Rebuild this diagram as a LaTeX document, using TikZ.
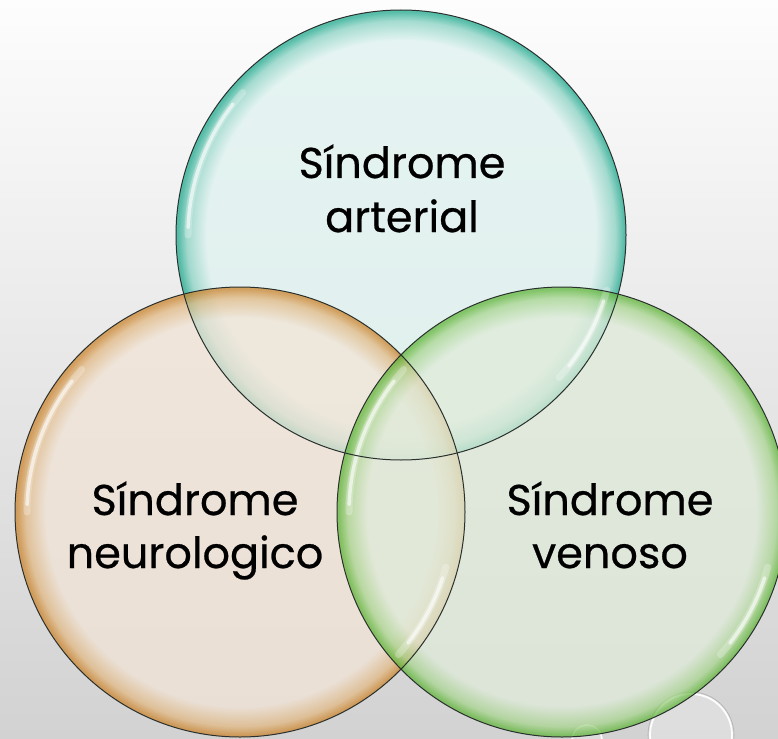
\documentclass[tikz,border=0pt]{standalone}
\usepackage{fontspec}
\setmainfont{Poppins}[FakeBold=0.6]
\usetikzlibrary{calc}

\definecolor{bgtop}{HTML}{FDFDFD}
\definecolor{bgbot}{HTML}{D2D2D2}
\definecolor{tealfill}{HTML}{E0F3F0}
\definecolor{tealmid}{HTML}{8FD4C6}
\definecolor{tealrim}{HTML}{2FAF95}
\definecolor{orfill}{HTML}{F2E4D6}
\definecolor{ormid}{HTML}{E2B984}
\definecolor{orrim}{HTML}{CC8630}
\definecolor{grfill}{HTML}{DFEBD9}
\definecolor{grmid}{HTML}{A8D58F}
\definecolor{grrim}{HTML}{62B63C}
\definecolor{outl}{HTML}{2A302E}

\pgfdeclareradialshading{tealball}{\pgfpoint{0bp}{0bp}}{color(0bp)=(tealfill); color(21.6bp)=(tealfill); color(23.8bp)=(tealmid); color(24.8bp)=(tealrim); color(25bp)=(tealrim); color(50bp)=(tealrim)}
\pgfdeclareradialshading{orball}{\pgfpoint{0bp}{0bp}}{color(0bp)=(orfill); color(21.6bp)=(orfill); color(23.8bp)=(ormid); color(24.8bp)=(orrim); color(25bp)=(orrim); color(50bp)=(orrim)}
\pgfdeclareradialshading{grball}{\pgfpoint{0bp}{0bp}}{color(0bp)=(grfill); color(21.6bp)=(grfill); color(23.8bp)=(grmid); color(24.8bp)=(grrim); color(25bp)=(grrim); color(50bp)=(grrim)}

\begin{document}
\begin{tikzpicture}[x=1pt,y=-1pt,
  lbl/.style={font=\fontsize{43}{50}\selectfont, text=black, inner sep=0pt, anchor=base},
  rimline/.style={draw=outl, line width=1pt},
  gloss/.style={draw=white, line width=3.5pt, opacity=0.6, line cap=round},
  glosssoft/.style={draw=white, line width=7pt, opacity=0.25, line cap=round},
  bubble/.style={draw=white, line width=1.8pt, opacity=0.95}]
\useasboundingbox (0,0) rectangle (778,738);
\clip (0,0) rectangle (778,738);
\shade[top color=bgtop, bottom color=bgbot] (0,0) rectangle (778,738);

\coordinate (T) at (401,235);
\coordinate (L) at (240,512);
\coordinate (R) at (562,512);
\coordinate (B1) at (691,735);
\coordinate (B2) at (587,740);

% background bubbles
\fill[white, opacity=0.25] (B1) circle[radius=42];
\draw[draw=black!30, line width=0.6pt] (B1) circle[radius=43];
\draw[bubble] (B1) circle[radius=41];
\fill[white, opacity=0.25] (B2) circle[radius=15];
\draw[draw=black!25, line width=0.5pt] (B2) circle[radius=16];
\draw[bubble] (B2) circle[radius=15];

% circle fills
\shade[shading=tealball, fill opacity=0.8] (T) circle[radius=225];
\shade[shading=orball, fill opacity=0.75] (L) circle[radius=225];
\shade[shading=grball, fill opacity=0.75] (R) circle[radius=225];

% gloss highlights
\foreach \c in {T,L,R}{
  \draw[glosssoft] (\c) ++(180:213) arc[start angle=180, end angle=222, radius=213];
  \draw[gloss] (\c) ++(182:213) arc[start angle=182, end angle=218, radius=213];
  \draw[glosssoft] (\c) ++(15:213) arc[start angle=15, end angle=42, radius=213];
  \draw[gloss] (\c) ++(18:213) arc[start angle=18, end angle=38, radius=213];
}

% outlines
\draw[rimline] (T) circle[radius=225];
\draw[rimline] (L) circle[radius=225];
\draw[rimline] (R) circle[radius=225];

% labels
\node[lbl] (t1) at (402,178) {Síndrome};
\node[lbl] (t2) at (402,232) {arterial};
\node[lbl] (l1) at (195,515) {Síndrome};
\node[lbl] (l2) at (195,568) {neurologico};
\node[lbl] (r1) at (610,515) {Síndrome};
\node[lbl] (r2) at (610,568) {venoso};
\end{tikzpicture}
\end{document}
